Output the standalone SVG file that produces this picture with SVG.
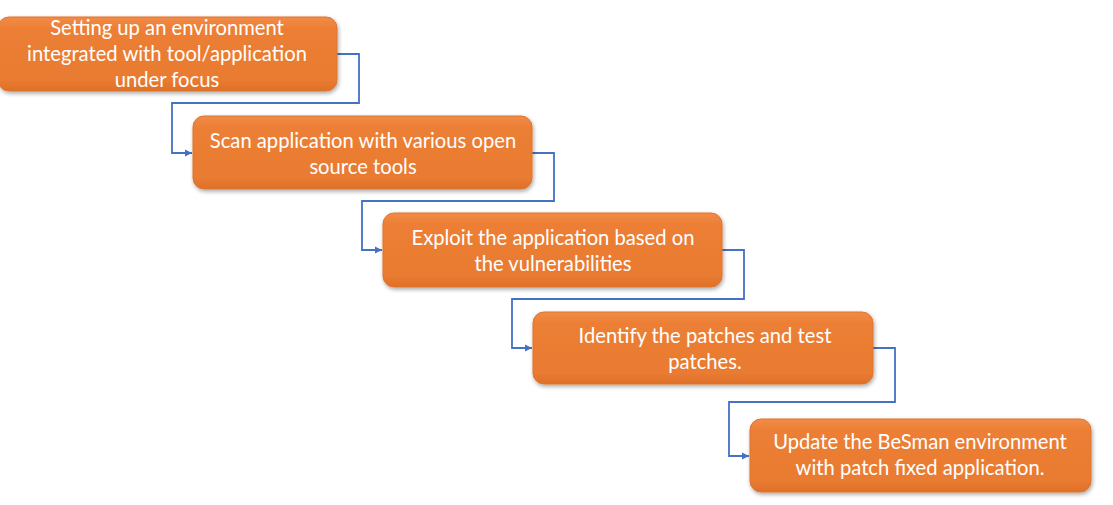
<svg xmlns="http://www.w3.org/2000/svg" width="1113" height="505" viewBox="0 0 1113 505">
<style>
.box{fill:url(#og);stroke:#E0742C;stroke-width:1;filter:url(#sh)}
.t{font-family:Lato,"Open Sans","Liberation Sans",sans-serif;font-size:20.2px;fill:#ffffff;text-anchor:middle}
.c{fill:none;stroke:#4472C4;stroke-width:1.8;marker-end:url(#ah)}
</style>
<defs>
<linearGradient id="og" x1="0" y1="0" x2="0" y2="1">
<stop offset="0" stop-color="#F28C48"/>
<stop offset="0.15" stop-color="#EC7F35"/>
<stop offset="0.85" stop-color="#E97B31"/>
<stop offset="1" stop-color="#DE7029"/>
</linearGradient>
<filter id="sh" x="-5%" y="-15%" width="110%" height="135%">
<feGaussianBlur in="SourceAlpha" stdDeviation="2"/>
<feOffset dx="1" dy="2" result="b"/>
<feComponentTransfer><feFuncA type="linear" slope="0.35"/></feComponentTransfer>
<feMerge><feMergeNode/><feMergeNode in="SourceGraphic"/></feMerge>
</filter>
<marker id="ah" markerWidth="8" markerHeight="8" refX="7" refY="4" orient="auto" markerUnits="userSpaceOnUse">
<path d="M0,0.5 L7,4 L0,7.5 Z" fill="#4472C4"/>
</marker>
</defs>
<g id="connectors">
<path class="c" d="M337,54 H359 V103 H172 V153 H192"/>
<path class="c" d="M532,153 H554 V201 H362 V250 H382"/>
<path class="c" d="M722,250 H744 V299 H512 V348 H532"/>
<path class="c" d="M873,348 H895 V402 H729 V456 H749"/>
</g>
<g id="n1">
<rect class="box" x="-2" y="17" width="339" height="74" rx="11"/>
<text class="t" x="167" y="35">Setting up an environment</text>
<text class="t" x="167" y="61">integrated with tool/application</text>
<text class="t" x="167" y="87">under focus</text>
</g>
<g id="n2">
<rect class="box" x="193" y="116" width="339" height="73" rx="11"/>
<text class="t" x="363" y="148">Scan application with various open</text>
<text class="t" x="363" y="174">source tools</text>
</g>
<g id="n3">
<rect class="box" x="383" y="213" width="339" height="74" rx="11"/>
<text class="t" x="553" y="245">Exploit the application based on</text>
<text class="t" x="553" y="271">the vulnerabilities</text>
</g>
<g id="n4">
<rect class="box" x="533" y="312" width="340" height="72" rx="11"/>
<text class="t" x="705" y="343">Identify the patches and test</text>
<text class="t" x="705" y="369">patches.</text>
</g>
<g id="n5">
<rect class="box" x="750" y="419" width="341" height="73" rx="11"/>
<text class="t" x="920" y="449">Update the BeSman environment</text>
<text class="t" x="920" y="475">with patch fixed application.</text>
</g>
</svg>
